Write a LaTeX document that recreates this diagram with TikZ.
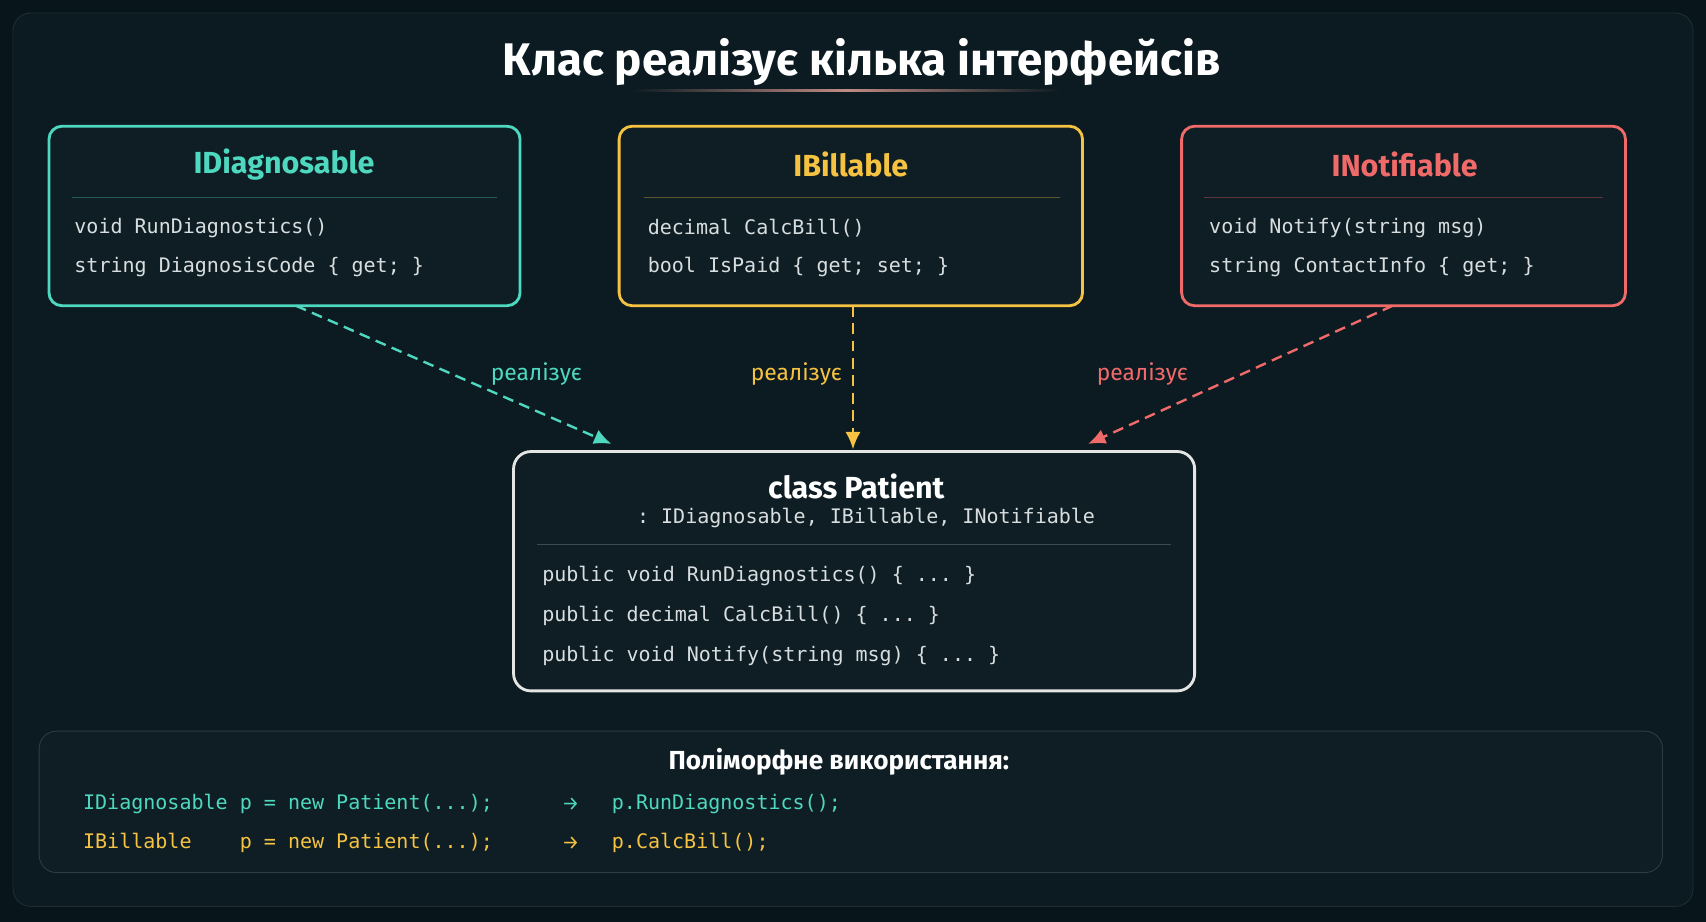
\documentclass[tikz,border=0pt]{standalone}
\usepackage{fontspec}
\setmainfont{Fira Sans}
\setmonofont{DejaVu Sans Mono}
\usetikzlibrary{arrows.meta}
\definecolor{bg}{HTML}{08161B}
\definecolor{panel}{HTML}{0B1B21}
\definecolor{boxfill}{HTML}{0E1E24}
\definecolor{teal}{HTML}{4FD8C0}
\definecolor{gold}{HTML}{F5C242}
\definecolor{salmon}{HTML}{F06A6A}
\definecolor{txt}{HTML}{D8DEE0}
\definecolor{sep}{HTML}{3A4A4E}
\begin{document}
\begin{tikzpicture}[x=0.5pt,y=-0.5pt,
  iface/.style={draw=#1,line width=1.3pt,rounded corners=6pt,fill=boxfill},
  head/.style={font=\bfseries\fontsize{14}{16}\selectfont,text=#1},
  code/.style={font=\ttfamily\fontsize{9.2}{11}\selectfont,text=txt,anchor=west,inner sep=0pt},
  lbl/.style={font=\fontsize{10.5}{12}\selectfont,text=#1},
  impl/.style={draw=#1,dash pattern=on 5pt off 3pt,line width=1.1pt,-{Latex[length=8pt,width=7pt]}}]
\fill[bg] (0,0) rectangle (1568,847);
\draw[panel!60!sep,fill=panel,rounded corners=8pt] (12,12) rectangle (1556,833);
\node[font=\bfseries\fontsize{21}{24}\selectfont,text=white] (title) at (792,57) {Клас реалізує кілька інтерфейсів};
\shade[left color=panel,right color=panel,middle color=salmon!70!teal] (580,82) rectangle (975,84);
% interfaces
\draw[iface=teal] (45,116) rectangle (478,281);
\node[head=teal] (h1) at (261,151) {IDiagnosable};
\draw[teal!35!panel] (66,181) -- (457,181);
\node[code] (a1) at (68,210) {void RunDiagnostics()};
\node[code] (a2) at (68,245) {string DiagnosisCode \{ get; \}};
\coordinate (d) at (272,281);
\draw[iface=gold] (569,116) rectangle (995,281);
\node[head=gold] (h2) at (782,151) {IBillable};
\draw[gold!35!panel] (592,181) -- (974,181);
\node[code] (b1) at (595,210) {decimal CalcBill()};
\node[code] (b2) at (595,245) {bool IsPaid \{ get; set; \}};
\coordinate (b) at (784,281);
\draw[iface=salmon] (1086,116) rectangle (1494,281);
\node[head=salmon] (h3) at (1291,151) {INotifiable};
\draw[salmon!35!panel] (1107,181) -- (1473,181);
\node[code] (c1) at (1111,210) {void Notify(string msg)};
\node[code] (c2) at (1111,245) {string ContactInfo \{ get; \}};
\coordinate (n) at (1280,281);
% patient
\draw[draw=white!90!black,line width=1.3pt,rounded corners=8pt,fill=boxfill] (472,415) rectangle (1098,635);
\node[font=\bfseries\fontsize{14}{16}\selectfont,text=white] (p) at (787,447) {class Patient};
\node[font=\ttfamily\fontsize{9.2}{11}\selectfont,text=txt] (ps) at (796,476) {: IDiagnosable, IBillable, INotifiable};
\draw[sep] (494,500) -- (1076,500);
\node[code] (p1) at (498,529) {public void RunDiagnostics() \{ ... \}};
\node[code] (p2) at (498,566) {public decimal CalcBill() \{ ... \}};
\node[code] (p3) at (498,603) {public void Notify(string msg) \{ ... \}};
\coordinate (pd) at (562,408);
\coordinate (pb) at (784,413);
\coordinate (pn) at (1000,408);
\draw[impl=teal] (d) -- (pd);
\draw[impl=gold] (b) -- (pb);
\draw[impl=salmon] (n) -- (pn);
\node[lbl=teal] (l1) at (493,344) {реалізує};
\node[lbl=gold] (l2) at (732,344) {реалізує};
\node[lbl=salmon] (l3) at (1050,344) {реалізує};
% bottom
\draw[draw=sep!70!panel,fill=boxfill,rounded corners=8pt] (36,672) rectangle (1528,802);
\node[font=\bfseries\fontsize{12}{14}\selectfont,text=white] (bt) at (771,700) {Поліморфне використання:};
\node[code,text=teal] (u1) at (76,739) {IDiagnosable p = new Patient(...);};
\node[code,text=teal,font=\fontsize{9}{11}\selectfont] (ar1) at (516,739) {→};
\node[code,text=teal] (v1) at (562,739) {p.RunDiagnostics();};
\node[code,text=gold] (u2) at (76,775) {IBillable\ \ \ \ p = new Patient(...);};
\node[code,text=gold,font=\fontsize{9}{11}\selectfont] (ar2) at (516,775) {→};
\node[code,text=gold] (v2) at (562,775) {p.CalcBill();};
\end{tikzpicture}
\end{document}
